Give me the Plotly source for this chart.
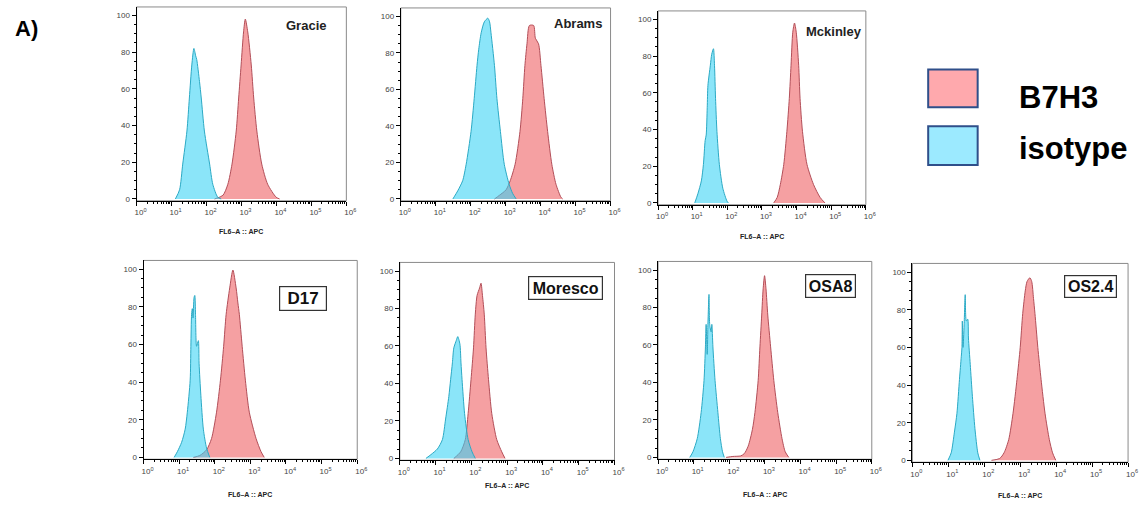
import plotly.graph_objects as go

W, H = 1145, 506

# ---------------- data (log10 FL6-A::APC intensity, % of max) ----------------
panels = ["Gracie", "Abrams", "Mckinley", "D17", "Moresco", "OSA8", "OS2.4"]

gracie_iso_log = [1.11, 1.23, 1.32, 1.44, 1.51, 1.58, 1.64, 1.69, 1.72, 1.80, 1.85, 1.94, 2.09, 2.18, 2.32, 2.42]
gracie_iso_pct = [0, 5, 19, 37, 55, 73, 82, 78, 76, 64, 55, 37, 19, 8, 1, 0]
gracie_b7_log = [2.23, 2.47, 2.61, 2.73, 2.85, 2.92, 2.99, 3.06, 3.11, 3.18, 3.28, 3.35, 3.44, 3.58, 3.75, 3.99, 4.09]
gracie_b7_pct = [0, 2, 8, 19, 37, 55, 73, 91, 98, 91, 73, 55, 37, 19, 8, 1, 0]

abrams_iso_log = [1.49, 1.63, 1.77, 1.87, 2.01, 2.10, 2.18, 2.23, 2.30, 2.39, 2.49, 2.54, 2.58, 2.68, 2.75, 2.85, 2.96, 3.10, 3.20, 3.30]
abrams_iso_pct = [0, 4.5, 10, 19, 37, 55, 73, 82, 91, 97, 99, 97, 91, 73, 55, 37, 19, 8, 3, 0]
abrams_b7_log = [2.68, 2.82, 3.01, 3.13, 3.27, 3.41, 3.49, 3.55, 3.61, 3.68, 3.80, 3.85, 3.94, 4.01, 4.10, 4.20, 4.32, 4.44, 4.58, 4.63]
abrams_b7_pct = [0, 2, 5, 10, 19, 37, 55, 73, 85, 95, 95, 88, 85, 73, 55, 37, 19, 8, 1, 0]

mckinley_iso_log = [1.06, 1.15, 1.25, 1.31, 1.36, 1.39, 1.42, 1.44, 1.51, 1.55, 1.60, 1.63, 1.66, 1.70, 1.77, 1.87, 1.99, 2.03]
mckinley_iso_pct = [0, 5, 12, 21, 34, 37, 52, 64, 75, 81, 84, 75, 57, 39, 21, 8, 1, 0]
mckinley_b7_log = [3.34, 3.44, 3.53, 3.63, 3.72, 3.79, 3.84, 3.89, 3.94, 3.99, 4.06, 4.10, 4.17, 4.30, 4.49, 4.68, 4.82]
mckinley_b7_pct = [0, 3, 10, 21, 39, 57, 75, 93, 98, 93, 75, 57, 39, 21, 10, 3, 0]

d17_iso_log = [0.86, 0.95, 1.07, 1.17, 1.23, 1.31, 1.33, 1.35, 1.37, 1.39, 1.42, 1.44, 1.46, 1.49, 1.54, 1.56, 1.61, 1.68, 1.77, 1.86]
d17_iso_pct = [0, 3, 8, 15, 24, 41, 59, 76, 79, 74, 85, 86, 76, 59, 62, 50, 33, 15, 5, 0]
d17_b7_log = [1.40, 1.58, 1.77, 1.91, 2.05, 2.16, 2.25, 2.32, 2.42, 2.51, 2.60, 2.65, 2.69, 2.77, 2.86, 2.97, 3.16, 3.30, 3.39]
d17_b7_pct = [0, 1, 4, 10, 24, 41, 59, 76, 90, 99.5, 90, 82, 76, 59, 41, 24, 10, 3, 0]

moresco_iso_log = [0.73, 0.87, 1.05, 1.19, 1.28, 1.37, 1.42, 1.47, 1.51, 1.58, 1.62, 1.68, 1.71, 1.74, 1.81, 1.91, 2.02, 2.11]
moresco_iso_pct = [0, 2, 5, 10, 21, 33, 42, 51, 59, 63, 65, 61, 51, 42, 24, 10, 3.5, 0]
moresco_b7_log = [1.51, 1.70, 1.83, 1.91, 1.99, 2.06, 2.11, 2.16, 2.23, 2.27, 2.31, 2.36, 2.41, 2.48, 2.57, 2.71, 2.85, 2.94]
moresco_b7_pct = [0, 3.5, 10, 24, 42, 59, 77, 87, 91, 93.5, 87, 77, 59, 42, 24, 10, 3.5, 0]

osa8_iso_log = [0.89, 0.98, 1.10, 1.21, 1.29, 1.33, 1.35, 1.38, 1.40, 1.43, 1.45, 1.49, 1.51, 1.54, 1.60, 1.68, 1.75, 1.81, 1.86]
osa8_iso_pct = [0, 3, 10, 24, 41, 59, 71, 55, 71, 87, 71, 67, 71, 59, 41, 24, 10, 3, 0]
osa8_b7_log = [1.91, 2.10, 2.32, 2.42, 2.53, 2.65, 2.72, 2.81, 2.86, 2.91, 2.95, 2.99, 3.03, 3.08, 3.16, 3.25, 3.36, 3.48, 3.57, 3.67]
osa8_b7_pct = [0, 0.5, 0.8, 2, 6, 15, 24, 41, 59, 76, 90, 97, 90, 76, 59, 41, 24, 10, 3, 0]

os24_iso_log = [0.99, 1.08, 1.17, 1.24, 1.31, 1.36, 1.38, 1.39, 1.41, 1.44, 1.47, 1.50, 1.54, 1.56, 1.61, 1.67, 1.74, 1.82, 1.88]
os24_iso_pct = [0, 4, 15, 25, 43, 55, 60, 74, 60, 72, 88, 74, 75, 65, 51, 34, 17, 4, 0]
os24_b7_log = [2.20, 2.43, 2.55, 2.68, 2.80, 2.91, 3.00, 3.07, 3.14, 3.19, 3.27, 3.32, 3.37, 3.41, 3.49, 3.58, 3.69, 3.81, 3.90, 3.99]
os24_b7_pct = [0, 1, 4, 11, 25, 43, 60, 78, 90, 95, 97, 95, 86, 78, 60, 43, 25, 11, 4, 0]

x_tick_exponents = [0, 1, 2, 3, 4, 5, 6]
y_tick_values = [0, 20, 40, 60, 80, 100]
axis_title = "FL6–A :: APC"
legend_labels = ["B7H3", "isotype"]

curves = {
    "Gracie": (gracie_iso_log, gracie_iso_pct, gracie_b7_log, gracie_b7_pct),
    "Abrams": (abrams_iso_log, abrams_iso_pct, abrams_b7_log, abrams_b7_pct),
    "Mckinley": (mckinley_iso_log, mckinley_iso_pct, mckinley_b7_log, mckinley_b7_pct),
    "D17": (d17_iso_log, d17_iso_pct, d17_b7_log, d17_b7_pct),
    "Moresco": (moresco_iso_log, moresco_iso_pct, moresco_b7_log, moresco_b7_pct),
    "OSA8": (osa8_iso_log, osa8_iso_pct, osa8_b7_log, osa8_b7_pct),
    "OS2.4": (os24_iso_log, os24_iso_pct, os24_b7_log, os24_b7_pct),
}

# ---------------- layout (pixel boxes: left, right, top, bottom) ----------------
boxes = {
    "Gracie": (136, 348, 7, 202),
    "Abrams": (403, 615, 8, 202),
    "Mckinley": (663, 873, 11, 206),
    "D17": (143, 359, 262, 462),
    "Moresco": (402, 619, 264, 463),
    "OSA8": (663, 879, 263, 462),
    "OS2.4": (920, 1138, 265, 465),
}
title_y = {"Gracie": 233, "Abrams": None, "Mckinley": 238, "D17": 497,
           "Moresco": 488, "OSA8": 497, "OS2.4": 498}

FONT = "Liberation Sans, Arial, sans-serif"
PINK_FILL = "rgba(238,97,100,0.6)"
PINK_LINE = "#B24E58"
BLUE_FILL = "rgba(55,210,245,0.58)"
BLUE_LINE = "#2BA9C4"


def px(x):
    return x / W


def py(y):
    return 1 - y / H


def note(x, y, text, size, color="#222", **kw):
    d = dict(x=px(x), y=py(y), xref="paper", yref="paper", text=text,
             showarrow=False, xanchor="center", yanchor="middle",
             font=dict(size=size, color=color, family=FONT))
    d.update(kw)
    return d


fig = go.Figure()
layout = dict(
    width=W, height=H, margin=dict(l=0, r=0, t=0, b=0),
    paper_bgcolor="white", plot_bgcolor="white", showlegend=False,
    font=dict(family=FONT, color="#333"),
)
shapes = []
annotations = []

minor_vals = [k * 10 ** e for e in range(0, 6) for k in range(2, 10)]

for i, name in enumerate(panels):
    n = "" if i == 0 else str(i + 1)
    xa, ya = "x" + n, "y" + n
    l, r, t, b = boxes[name]
    iso_log, iso_pct, b7_log, b7_pct = curves[name]

    fig.add_trace(go.Scatter(
        x=[10 ** v for v in b7_log], y=b7_pct, xaxis=xa, yaxis=ya,
        mode="lines", line=dict(color=PINK_LINE, width=1, shape="spline", smoothing=0.7),
        fill="tozeroy", fillcolor=PINK_FILL, name="B7H3", hoverinfo="skip"))
    fig.add_trace(go.Scatter(
        x=[10 ** v for v in iso_log], y=iso_pct, xaxis=xa, yaxis=ya,
        mode="lines", line=dict(color=BLUE_LINE, width=1, shape="spline", smoothing=0.7),
        fill="tozeroy", fillcolor=BLUE_FILL, name="isotype", hoverinfo="skip"))

    layout["xaxis" + n] = dict(
        domain=[px(l), px(r)], anchor=ya, type="log", range=[0, 6],
        tickvals=[10 ** e for e in x_tick_exponents],
        ticktext=["10<sup>%d</sup>" % e for e in x_tick_exponents],
        ticks="outside", ticklen=4, tickwidth=1, tickcolor="black",
        showline=True, linecolor="black", linewidth=1,
        showgrid=False, zeroline=False, ticklabelshift=4,
        tickfont=dict(size=8, color="#444", family=FONT),
        minor=dict(tickvals=minor_vals, ticks="outside", ticklen=2,
                   tickcolor="black", tickwidth=1, showgrid=False),
    )
    layout["yaxis" + n] = dict(
        domain=[py(b), py(t)], anchor=xa, range=[-1, 104.6],
        tickvals=y_tick_values, ticks="outside", ticklen=4, tickwidth=1,
        tickcolor="black", showline=True, linecolor="black", linewidth=1,
        showgrid=False, zeroline=False,
        tickfont=dict(size=8, color="#444", family=FONT),
        minor=dict(dtick=5, ticks="outside", ticklen=2, tickcolor="black",
                   tickwidth=1, showgrid=False),
    )
    shapes.append(dict(type="rect", xref=xa + " domain", yref=ya + " domain",
                       x0=0, x1=1, y0=0, y1=1, line=dict(color="#8a8a8a", width=1),
                       layer="below"))
    if title_y[name] is not None:
        annotations.append(note((l + r) / 2, title_y[name],
                                "<b>%s</b>" % axis_title, 7))

# row 1 sample names (plain)
for name, (cx, cy) in {"Gracie": (307, 26), "Abrams": (582, 24), "Mckinley": (841, 32)}.items():
    annotations.append(note(cx, cy, "<b>%s</b>" % name, 13))

# row 2 sample names (boxed): center x, center y, box w, box h, font size
for name, (cx, cy, bw, bh, fs) in {
    "D17": (304, 300, 48, 25, 17),
    "Moresco": (569, 290, 75, 24, 16),
    "OSA8": (837, 288, 51, 24, 16),
    "OS2.4": (1100, 288, 53, 23, 16),
}.items():
    annotations.append(note(cx, cy, "<b>%s</b>" % name, fs, color="#111",
                            width=bw - 2, height=bh - 2, borderpad=0,
                            bordercolor="#333", borderwidth=1.2, bgcolor="white"))

# panel label
annotations.append(note(25, 29, "<b>A)</b>", 22, color="black"))

# legend
for (lab, fill, y0, y1, ty) in [(legend_labels[0], "#FFA9AD", 70, 108, 98),
                                (legend_labels[1], "#9CEAFF", 127, 166, 149)]:
    shapes.append(dict(type="rect", xref="paper", yref="paper",
                       x0=px(936), x1=px(986), y0=py(y1), y1=py(y0),
                       fillcolor=fill, line=dict(color="#2F4F8A", width=2)))
    annotations.append(note(1026, ty, "<b>%s</b>" % lab, 31, color="black",
                            xanchor="left"))

layout["shapes"] = shapes
layout["annotations"] = annotations
fig.update_layout(**layout)
fig.write_html(
    "out.html",
    config={"displayModeBar": False},
    post_script="document.body.style.margin='0';document.body.style.overflow='hidden';",
)
